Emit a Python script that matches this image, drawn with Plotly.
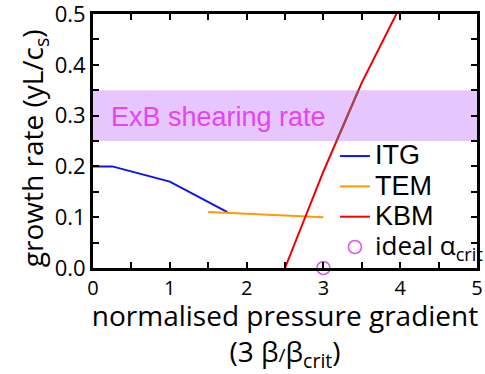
import numpy as np
import plotly.graph_objects as go

# Data
itg_x = [0.0, 0.25, 1.0, 1.75]
itg_y = [0.20, 0.20, 0.17, 0.11]
tem_x = [1.5, 3.0]
tem_y = [0.11, 0.10]
kbm_x = [2.5, 3.0, 3.5, 4.0]
kbm_y = [0.0, 0.19, 0.365, 0.515]
ideal_x = [3.0]
ideal_y = [0.0]
band_lo, band_hi = 0.25, 0.35
band_label = "ExB shearing rate"
x_ticks = [0, 1, 2, 3, 4, 5]
y_ticks = [0.0, 0.1, 0.2, 0.3, 0.4, 0.5]

ARIAL = "Liberation Sans, Arial, sans-serif"
SANS = "Open Sans, Noto Sans, sans-serif"

def big(t):
    return f'<span style="font-size:27px">{t}</span>'

fig = go.Figure()
fig.add_trace(go.Scatter(x=itg_x, y=itg_y, mode="lines", name=big("ITG"),
                         line=dict(color="#0a14f0", width=2)))
fig.add_trace(go.Scatter(x=tem_x, y=tem_y, mode="lines", name=big("TEM"),
                         line=dict(color="#ff9a00", width=2)))
fig.add_trace(go.Scatter(x=kbm_x, y=kbm_y, mode="lines", name=big("KBM"),
                         line=dict(color="#ee0000", width=2)))

# darker segment of KBM inside the band (band drawn over the line)
order = np.argsort(kbm_y)
ky = np.array(kbm_y)[order]
kx = np.array(kbm_x)[order]
xl = np.interp(band_lo, ky, kx)
xh = np.interp(band_hi, ky, kx)
inner = [(a, b) for a, b in zip(kx, ky) if band_lo < b < band_hi]
seg_x = [xl] + [p[0] for p in inner] + [xh]
seg_y = [band_lo] + [p[1] for p in inner] + [band_hi]

fig.add_shape(type="rect", xref="x", yref="y", x0=0, x1=5, y0=band_lo, y1=band_hi,
              fillcolor="#e6c6fc", line=dict(width=0), layer="below")
fig.add_trace(go.Scatter(x=seg_x, y=seg_y, mode="lines", showlegend=False,
                         line=dict(color="#9a4a52", width=2), hoverinfo="skip"))

fig.add_trace(go.Scatter(x=ideal_x, y=ideal_y, mode="markers", cliponaxis=False,
                         name=f'<span style="font-family:Open Sans;font-size:26px">ideal α<sub>crit</sub></span>',
                         marker=dict(symbol="circle-open", size=13, color="#dd55ee",
                                     line=dict(width=1.6, color="#dd55ee"))))

fig.add_annotation(x=0.21, y=0.298, xref="x", yref="y", text=band_label,
                   showarrow=False, xanchor="left", yanchor="middle",
                   font=dict(family=ARIAL, size=27, color="#e445f0"))

axis_common = dict(showline=True, linewidth=3, linecolor="black", mirror="allticks",
                   ticks="inside", ticklen=6, tickwidth=1.5, tickcolor="black",
                   showgrid=False, zeroline=False, ticklabeloverflow="allow")

fig.update_xaxes(range=[0, 5], tickvals=x_ticks, **axis_common,
                 minor=dict(dtick=0.5, ticks="inside", ticklen=6, tickwidth=1.5, tickcolor="black"),
                 tickfont=dict(family=SANS, size=20, color="black"),
                 title=dict(text="normalised pressure gradient<br>(3 β<span style='font-size:19px'>/</span>β<sub>crit</sub>)",
                            font=dict(family=SANS, size=28, color="black"), standoff=3))
fig.update_yaxes(range=[0, 0.5], tickvals=y_ticks, tickformat=".1f", **axis_common,
                 minor=dict(dtick=0.05, ticks="inside", ticklen=6, tickwidth=1.5, tickcolor="black"),
                 tickfont=dict(family=SANS, size=22, color="black"),
                 title=dict(text="growth rate (yL/c<sub>s</sub>)&nbsp;&nbsp;",
                            font=dict(family=SANS, size=28, color="black"), standoff=2))

fig.update_layout(
    width=485, height=374,
    margin=dict(l=93, r=8, t=14, b=106, autoexpand=False),
    plot_bgcolor="white", paper_bgcolor="white",
    legend=dict(x=0.63, y=0.52, xanchor="left", yanchor="top",
                bgcolor="rgba(0,0,0,0)", font=dict(family=ARIAL, size=21, color="black"),
                itemwidth=30, tracegroupgap=0),
)

fig.write_html("out.html")
